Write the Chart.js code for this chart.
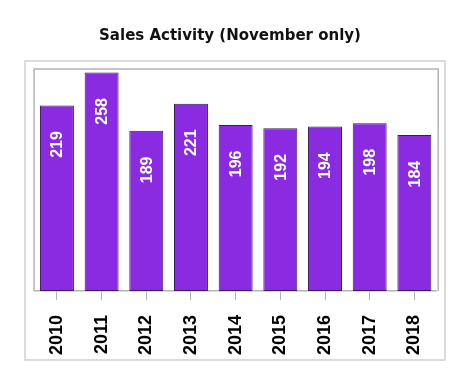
<!DOCTYPE html>
<html>
<head>
<meta charset="utf-8">
<style>
  html, body { margin: 0; padding: 0; background: #fff; }
  #wrap { width: 471px; height: 385px; position: relative; }
</style>
<script src="https://cdn.jsdelivr.net/npm/chart.js@4"></script>
</head>
<body>
<div id="wrap"><canvas id="c" width="471" height="385"></canvas></div>
<script>
const titleText = 'Sales Activity (November only)';
const years = ['2010', '2011', '2012', '2013', '2014', '2015', '2016', '2017', '2018'];
const sales = [219, 258, 189, 221, 196, 192, 194, 198, 184];
const yMin = 0;
const yMax = 262;

const framePlugin = {
  id: 'frames',
  beforeDraw(chart) {
    const ctx = chart.ctx;
    const a = chart.chartArea;
    ctx.save();
    ctx.fillStyle = '#fff';
    ctx.fillRect(0, 0, chart.width, chart.height);
    // outer frame
    ctx.strokeStyle = '#cfcfcf';
    ctx.lineWidth = 1.5;
    ctx.strokeRect(25, 61, 420, 299);
    // inner frame (plot area)
    ctx.strokeStyle = '#b4b4b4';
    ctx.lineWidth = 1.5;
    ctx.beginPath();
    ctx.moveTo(a.left - 0.5, a.bottom);
    ctx.lineTo(a.left - 0.5, a.top);
    ctx.lineTo(a.right + 1.5, a.top);
    ctx.lineTo(a.right + 1.5, a.bottom);
    ctx.stroke();
    // title
    ctx.fillStyle = '#111';
    ctx.font = 'bold 15px "DejaVu Sans"';
    ctx.textAlign = 'center';
    ctx.textBaseline = 'middle';
    ctx.fillText(titleText, 230, 36);
    ctx.restore();
  }
};

const valuePlugin = {
  id: 'values',
  afterDatasetsDraw(chart) {
    const ctx = chart.ctx;
    const meta = chart.getDatasetMeta(0);
    ctx.save();
    ctx.fillStyle = '#ffffff';
    ctx.font = 'bold 16px "Liberation Sans"';
    ctx.textAlign = 'center';
    ctx.textBaseline = 'middle';
    meta.data.forEach((bar, i) => {
      ctx.save();
      ctx.translate(bar.x, bar.y + 39);
      ctx.rotate(-Math.PI / 2);
      ctx.fillText(String(sales[i]), 0, 1);
      ctx.restore();
    });
    ctx.restore();
  }
};

new Chart(document.getElementById('c'), {
  type: 'bar',
  data: {
    labels: years,
    datasets: [{
      data: sales,
      backgroundColor: '#8a2be2',
      borderColor: '#3a1a5e',
      borderWidth: 1,
      borderSkipped: false,
      barPercentage: 0.76,
      categoryPercentage: 1.0
    }]
  },
  options: {
    responsive: false,
    animation: false,
    devicePixelRatio: 1,
    layout: { padding: { left: 34.6, right: 34.3, top: 69, bottom: 15 } },
    plugins: {
      legend: { display: false },
      title: { display: false },
      tooltip: { enabled: false }
    },
    scales: {
      x: {
        grid: {
          display: true,
          offset: false,
          drawOnChartArea: false,
          drawTicks: true,
          tickLength: 9,
          color: '#b4b4b4',
          lineWidth: 1
        },
        border: { display: true, color: '#b4b4b4', width: 1.5 },
        ticks: {
          color: '#000',
          font: { family: '"Liberation Sans"', weight: 'bold', size: 18 },
          minRotation: 90,
          maxRotation: 90,
          padding: 15,
          autoSkip: false
        }
      },
      y: {
        display: false,
        min: yMin,
        max: yMax
      }
    }
  },
  plugins: [framePlugin, valuePlugin]
});
</script>
</body>
</html>
